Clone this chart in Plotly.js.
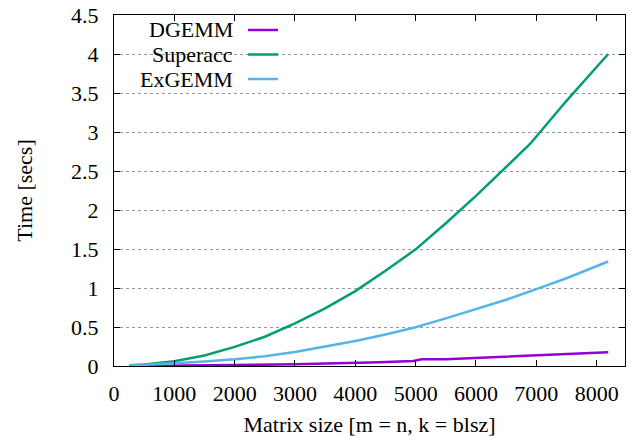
<!DOCTYPE html>
<html>
<head>
<meta charset="utf-8">
<script src="https://cdn.plot.ly/plotly-3.0.1.min.js"></script>
<style>html,body{margin:0;padding:0;background:#fff;}#chart{width:633px;height:437px;}</style>
</head>
<body>
<div id="chart"></div>
<script>
const seriesNames = ["DGEMM", "Superacc", "ExGEMM"];
const seriesColors = ["#9400d3", "#009e73", "#56b4e9"];

const dgemmX = [256, 1000, 2000, 3000, 4000, 4400, 4960, 5100, 5500, 6000, 6400, 7000, 8192];
const dgemmY = [0.001, 0.004, 0.012, 0.022, 0.035, 0.048, 0.064, 0.085, 0.087, 0.105, 0.118, 0.135, 0.175];

const superaccX = [256, 500, 1000, 1500, 2000, 2500, 3000, 3500, 4000, 4500, 5000, 5500, 6000, 6500, 6900, 7500, 8192];
const superaccY = [0.01, 0.02, 0.06, 0.135, 0.245, 0.375, 0.545, 0.74, 0.96, 1.22, 1.495, 1.83, 2.18, 2.55, 2.85, 3.4, 4.0];

const exgemmX = [256, 500, 1000, 1500, 2000, 2500, 3000, 3500, 4000, 4500, 5000, 5500, 6000, 6500, 7000, 7500, 8192];
const exgemmY = [0.005, 0.012, 0.035, 0.058, 0.086, 0.125, 0.18, 0.25, 0.32, 0.405, 0.497, 0.61, 0.725, 0.85, 0.985, 1.125, 1.34];

const yTicks = [0, 0.5, 1, 1.5, 2, 2.5, 3, 3.5, 4, 4.5];
const xTicks = [0, 1000, 2000, 3000, 4000, 5000, 6000, 7000, 8000];

const xs = [dgemmX, superaccX, exgemmX];
const ys = [dgemmY, superaccY, exgemmY];

const FONT = '"Liberation Serif", serif';
const FS = 22;

const traces = seriesNames.map((n, i) => ({
  x: xs[i], y: ys[i], name: n, type: "scatter", mode: "lines",
  line: {color: seriesColors[i], width: 2.5},
  showlegend: false
}));

// gnuplot-style key: right-aligned text, sample line to the right
const W = 633 - 114 - 8, H = 437 - 15 - 71;
const px2x = p => (p - 114) / W;
const py2y = p => 1 - (p - 15) / H;
const rowY = [30, 54.5, 79];
const annotations = seriesNames.map((n, i) => ({
  xref: "paper", yref: "paper", x: px2x(234), y: py2y(rowY[i]),
  xanchor: "right", yanchor: "middle", text: n, showarrow: false,
  borderpad: 0,
  font: {family: FONT, size: FS, color: "#000"}
}));
const shapes = [{
  type: "rect", xref: "paper", yref: "paper", layer: "between",
  x0: px2x(124), x1: px2x(290), y0: py2y(18), y1: py2y(90),
  fillcolor: "#fff", line: {width: 0}
}].concat(seriesNames.map((n, i) => ({
  type: "line", xref: "paper", yref: "paper",
  x0: px2x(248), x1: px2x(278), y0: py2y(rowY[i]), y1: py2y(rowY[i]),
  line: {color: seriesColors[i], width: 2.5}
})));

const layout = {
  width: 633, height: 437,
  margin: {l: 114, r: 8, t: 15, b: 71},
  paper_bgcolor: "#fff", plot_bgcolor: "#fff",
  font: {family: FONT, size: FS, color: "#000"},
  showlegend: false,
  xaxis: {
    range: [0, 8470], tickvals: xTicks, ticktext: xTicks.map(String),
    ticks: "inside", ticklen: 6, tickcolor: "#000", tickwidth: 1,
    showline: true, linecolor: "#000", linewidth: 1, mirror: "ticks",
    showgrid: false, zeroline: false, ticklabelstandoff: 8,
    tickfont: {family: FONT, size: FS, color: "#000"},
    title: {text: "Matrix size [m = n, k = blsz]", font: {family: FONT, size: FS, color: "#000"}, standoff: 11}
  },
  yaxis: {
    range: [0, 4.5], tickvals: yTicks, ticktext: yTicks.map(String),
    ticks: "inside", ticklen: 6, tickcolor: "#000", tickwidth: 1,
    showline: true, linecolor: "#000", linewidth: 1, mirror: "ticks",
    showgrid: true, gridcolor: "#999", griddash: "dot", gridwidth: 1,
    zeroline: false, ticklabelstandoff: 10,
    tickfont: {family: FONT, size: FS, color: "#000"},
    title: {text: "Time [secs]", font: {family: FONT, size: FS, color: "#000"}, standoff: 32}
  },
  annotations: annotations,
  shapes: shapes
};

Plotly.newPlot("chart", traces, layout, {displayModeBar: false, staticPlot: true});
</script>
</body>
</html>
